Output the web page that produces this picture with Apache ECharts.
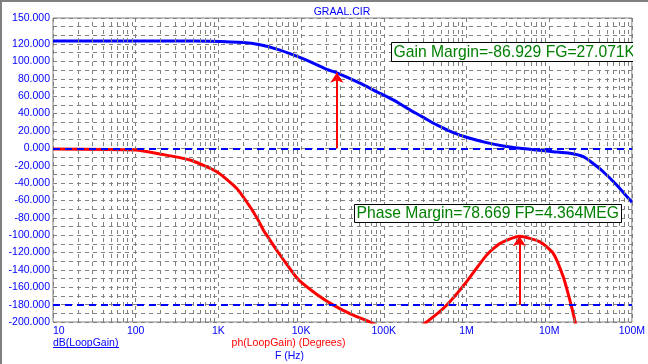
<!DOCTYPE html>
<html><head><meta charset="utf-8">
<script src="https://cdn.jsdelivr.net/npm/echarts@6/dist/echarts.min.js"></script>
<style>html,body{margin:0;padding:0;background:#fff}#c{width:648px;height:364px}</style>
</head><body><div id="c"></div><script>
// ---- data ----
const xTicks = [10, 100, 1e3, 1e4, 1e5, 1e6, 1e7, 1e8];
const xTickLabels = ['10', '100', '1K', '10K', '100K', '1M', '10M', '100M'];
const yTickLabels = [150, 120, 100, 80, 60, 40, 20, 0, -20, -40, -60, -80, -100, -120, -140, -160, -180, -200];

const gainFreq = [10, 100, 500, 790, 2000, 3180, 5070, 8050, 12800, 20400, 27071, 51600, 81600, 130000, 207000, 274000, 345000, 437000, 692000, 1100000, 1750000, 2780000, 4430000, 7000000, 11200000, 17800000, 25900000, 33700000, 45000000, 65500000, 95000000, 100000000];
const gainDb = [123.4, 123.4, 123.4, 123.3, 121.8, 119.1, 114.2, 107.6, 99.9, 90.8, 86.9, 75.0, 65.3, 55.7, 44.2, 37.8, 32.3, 26.9, 18.0, 11.5, 6.5, 2.7, 0.0, -2.0, -3.9, -5.8, -9.7, -17.3, -27.0, -42.3, -59.6, -62.0];

const phaseFreq = [10, 100, 195, 453, 955, 1660, 2400, 3040, 3490, 3840, 5300, 7000, 8200, 9700, 15400, 24000, 40000, 68000, 100000, 150000, 220000, 330000, 575000, 1000000, 1750000, 2540000, 4364000, 7740000, 11200000, 14800000, 17800000, 20400000, 25000000];
const phaseDeg = [-0.8, -2, -6.5, -13.5, -27, -46, -67, -83, -94, -100, -120, -136, -145, -153, -168, -180, -191, -200, -208, -214, -211, -200, -180.7, -153.8, -123, -109.6, -101.3, -107.7, -121, -148, -175, -198, -240];

const gainMargin = { freq: 27071, value: 86.929 };
const phaseMargin = { freq: 4364000, from: -180, value: -101.331 };
const refLines = [0, -180];

// minor log grid positions
const minorGrid = [];
for (let d = 10; d < 1e8; d *= 10) for (let m = 2; m <= 9; m++) minorGrid.push(d * m);

const FONT = '"Liberation Sans", Arial, sans-serif';
const chart = echarts.init(document.getElementById('c'), null, { renderer: 'canvas' });

const option = {
  animation: false,
  backgroundColor: '#ffffff',
  grid: { left: 53, right: 16, top: 18, bottom: 42, show: true, borderColor: '#808080', borderWidth: 1, backgroundColor: '#ffffff' },
  xAxis: {
    type: 'log', logBase: 10, min: 10, max: 1e8, splitNumber: 10,
    axisLine: { show: false }, axisTick: { show: false },
    splitLine: { show: true, lineStyle: { color: '#808080', type: [4, 4], width: 1 } },
    axisLabel: {
      color: '#0000ff', fontFamily: FONT, fontSize: 10.5, margin: 4, alignMinLabel: 'left',
      showMinLabel: true, showMaxLabel: true,
      formatter: v => {
        const i = xTicks.findIndex(t => Math.abs(Math.log10(t) - Math.log10(v)) < 1e-6);
        return i >= 0 ? xTickLabels[i] : '';
      }
    }
  },
  yAxis: {
    type: 'value', min: -200, max: 150, interval: 10,
    axisLine: { show: false }, axisTick: { show: false },
    splitLine: { show: true, lineStyle: { color: '#808080', type: [4, 4], width: 1 } },
    axisLabel: {
      color: '#0000ff', fontFamily: FONT, fontSize: 10.5, margin: 3, showMaxLabel: true,
      formatter: v => yTickLabels.indexOf(v) >= 0 ? v.toFixed(3) : ''
    }
  },
  series: [
    {
      type: 'line', data: [], z: 1, silent: true,
      markLine: {
        silent: true, symbol: 'none', label: { show: false },
        lineStyle: { color: '#808080', type: [4, 4], width: 1 },
        data: minorGrid.map(v => ({ xAxis: v }))
      }
    },
    {
      type: 'line', data: [], z: 2, silent: true,
      markLine: {
        silent: true, symbol: 'none', label: { show: false },
        lineStyle: { color: '#0000ff', type: [7, 5], width: 2 },
        data: refLines.map(v => ({ yAxis: v }))
      }
    },
    {
      name: 'dB(LoopGain)', type: 'line', z: 3, showSymbol: false, smooth: 0.2,
      lineStyle: { color: '#0000ff', width: 3 }, itemStyle: { color: '#0000ff' },
      data: gainFreq.map((f, i) => [f, gainDb[i]])
    },
    {
      name: 'ph(LoopGain)', type: 'line', z: 3, showSymbol: false, smooth: 0.2,
      lineStyle: { color: '#ff0000', width: 3 }, itemStyle: { color: '#ff0000' },
      data: phaseFreq.map((f, i) => [f, phaseDeg[i]])
    },
    {
      type: 'line', data: [], z: 4, silent: true,
      markLine: {
        silent: true, symbol: ['none', 'arrow'], symbolSize: 10, label: { show: false },
        itemStyle: { color: '#ff0000' },
        lineStyle: { color: '#ff0000', type: 'solid', width: 2 },
        data: [
          [{ coord: [gainMargin.freq, 0] }, { coord: [gainMargin.freq, gainMargin.value] }],
          [{ coord: [phaseMargin.freq, phaseMargin.from] }, { coord: [phaseMargin.freq, phaseMargin.value] }]
        ]
      }
    }
  ],
  graphic: [
    { type: 'line', z: 100, shape: { x1: 0, y1: 1, x2: 648, y2: 1 }, style: { stroke: '#808080', lineWidth: 2 } },
    { type: 'line', z: 100, shape: { x1: 1, y1: 0, x2: 1, y2: 364 }, style: { stroke: '#808080', lineWidth: 2 } },
    { type: 'text', z: 100, style: { text: 'GRAAL.CIR', x: 342, y: 12, textAlign: 'center', textVerticalAlign: 'middle', fill: '#0000ff', font: '10.5px ' + FONT } },
    // gain margin box
    { type: 'rect', z: 100, shape: { x: 391.5, y: 42.5, width: 270, height: 19 }, style: { fill: '#ffffff', stroke: '#000000', lineWidth: 1 } },
    { type: 'text', z: 101, style: { text: 'Gain Margin=-86.929 FG=27.071K', x: 393.5, y: 52.5, textAlign: 'left', textVerticalAlign: 'middle', fill: '#008000', font: '15.7px ' + FONT } },
    { type: 'rect', z: 102, shape: { x: 633, y: 30, width: 15, height: 45 }, style: { fill: '#ffffff', stroke: null } },
    // phase margin box
    { type: 'rect', z: 100, shape: { x: 354.5, y: 204.5, width: 267, height: 18 }, style: { fill: '#ffffff', stroke: '#000000', lineWidth: 1 } },
    { type: 'text', z: 101, style: { text: 'Phase Margin=78.669 FP=4.364MEG', x: 356.5, y: 214, textAlign: 'left', textVerticalAlign: 'middle', fill: '#008000', font: '15.7px ' + FONT } },
    // bottom labels
    { type: 'text', z: 100, style: { text: 'dB(LoopGain)', x: 53, y: 343, textAlign: 'left', textVerticalAlign: 'middle', fill: '#0000ff', font: '10.5px ' + FONT } },
    { type: 'line', z: 100, shape: { x1: 53, y1: 347.5, x2: 119, y2: 347.5 }, style: { stroke: '#0000ff', lineWidth: 1 } },
    { type: 'text', z: 100, style: { text: 'ph(LoopGain) (Degrees)', x: 288.5, y: 343, textAlign: 'center', textVerticalAlign: 'middle', fill: '#ff0000', font: '10.5px ' + FONT } },
    { type: 'text', z: 100, style: { text: 'F (Hz)', x: 289.5, y: 356, textAlign: 'center', textVerticalAlign: 'middle', fill: '#0000ff', font: '10.5px ' + FONT } }
  ]
};
chart.setOption(option);
</script></body></html>
